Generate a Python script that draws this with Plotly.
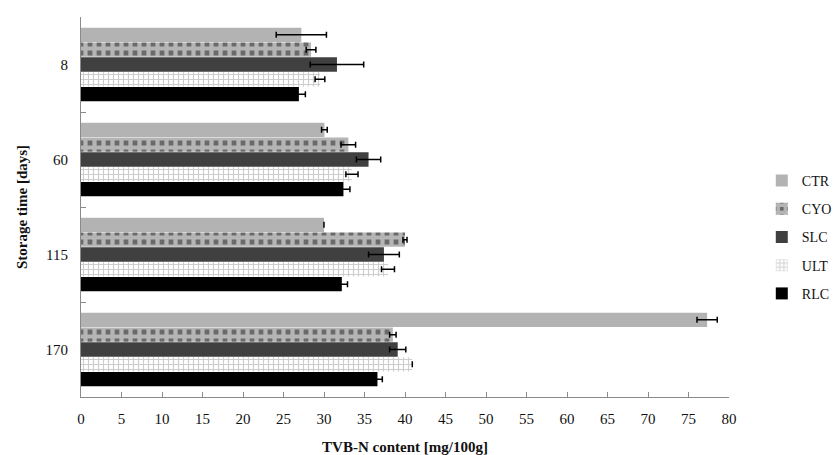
import plotly.graph_objects as go

days = ["8", "60", "115", "170"]
series = ["CTR", "CYO", "SLC", "ULT", "RLC"]

ctr = [27.2, 30.05, 30.0, 77.3]
ctr_err = [3.1, 0.35, 0.0, 1.25]
cyo = [28.4, 33.0, 40.0, 38.5]
cyo_err = [0.6, 0.9, 0.25, 0.4]
slc = [31.6, 35.5, 37.4, 39.1]
slc_err = [3.3, 1.5, 1.9, 1.0]
ult = [29.5, 33.45, 37.9, 40.9]
ult_err = [0.6, 0.75, 0.8, 0.0]
rlc = [26.9, 32.4, 32.2, 36.6]
rlc_err = [0.8, 0.8, 0.7, 0.6]

values = [ctr, cyo, slc, ult, rlc]
errors = [ctr_err, cyo_err, slc_err, ult_err, rlc_err]

markers = [
    dict(color="#b3b3b3"),
    dict(color="#707070", pattern=dict(shape="+", fgcolor="#ffffff", bgcolor="#6a6a6a",
                                       size=9, solidity=0.72)),
    dict(color="#404040"),
    dict(color="#b0b0b0", pattern=dict(shape="+", fgcolor="#9c9c9c", bgcolor="#ffffff",
                                       size=5, solidity=0.42)),
    dict(color="#000000"),
]

FONT = "Liberation Serif, Times New Roman, serif"

fig = go.Figure()
for name, vals, errs, mk in zip(series, values, errors, markers):
    fig.add_trace(go.Bar(
        y=days, x=vals, name=name, orientation="h",
        marker=dict(line=dict(width=0), **mk),
        legendgroup=name,
        error_x=dict(type="data", array=errs, visible=True,
                     color="#000000", thickness=1.5, width=3),
    ))

# page body adds an 8px offset, so the figure is sized/margined to compensate
fig.update_layout(
    width=832, height=447,
    margin=dict(l=73, r=111, t=9, b=58),
    paper_bgcolor="white", plot_bgcolor="white",
    barmode="group", bargap=0.22, bargroupgap=0.03,
    font=dict(family=FONT, size=14, color="#111111"),
    showlegend=True,
    legend=dict(xref="container", x=0.906, yref="paper", y=0.421,
                yanchor="middle", xanchor="left",
                traceorder="grouped", tracegroupgap=7,
                font=dict(family=FONT, size=14, color="#111111"),
                itemwidth=30),
    xaxis=dict(
        range=[0, 80], dtick=5, tick0=0, automargin=False,
        showgrid=False, zeroline=False,
        showline=True, linecolor="#8a8a8a", linewidth=1,
        ticks="inside", ticklen=5, tickcolor="#8a8a8a",
        tickfont=dict(family=FONT, size=15),
        ticklabelstandoff=8,
        title=dict(text="<b>TVB-N content [mg/100g]</b>",
                   font=dict(family=FONT, size=15), standoff=19),
    ),
    yaxis=dict(
        type="category", categoryorder="array", categoryarray=days,
        autorange="reversed", automargin=False,
        showgrid=False, zeroline=False,
        showline=True, linecolor="#8a8a8a", linewidth=1,
        ticks="inside", ticklen=5, tickcolor="#8a8a8a", tickson="boundaries",
        tickfont=dict(family=FONT, size=15),
        ticklabelstandoff=9,
        title=dict(text="<b>Storage time [days]</b>",
                   font=dict(family=FONT, size=15), standoff=14),
    ),
)

fig.write_html("out.html")
